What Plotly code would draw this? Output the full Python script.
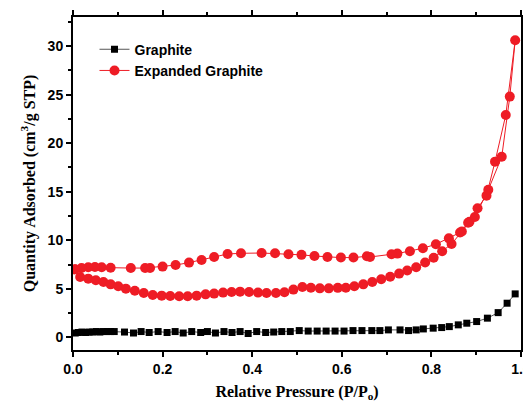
import plotly.graph_objects as go

# Graphite (black squares)
graphite_p = [0.005, 0.012, 0.020, 0.028, 0.036, 0.044, 0.052, 0.060, 0.068, 0.076,
              0.084, 0.092, 0.115, 0.135, 0.152, 0.170, 0.190, 0.210, 0.228, 0.246,
              0.265, 0.285, 0.300, 0.318, 0.337, 0.355, 0.373, 0.391, 0.410, 0.430,
              0.448, 0.466, 0.485, 0.505, 0.525, 0.545, 0.565, 0.585, 0.605, 0.625,
              0.645, 0.667, 0.685, 0.704, 0.730, 0.749, 0.766, 0.782, 0.804, 0.823,
              0.840, 0.860, 0.879, 0.901, 0.925, 0.949, 0.969, 0.987]
graphite_q = [0.45, 0.50, 0.55, 0.50, 0.55, 0.55, 0.60, 0.55, 0.60, 0.60,
              0.60, 0.60, 0.55, 0.45, 0.60, 0.50, 0.60, 0.50, 0.60, 0.45,
              0.60, 0.50, 0.60, 0.45, 0.60, 0.50, 0.60, 0.40, 0.60, 0.50,
              0.55, 0.60, 0.60, 0.70, 0.65, 0.65, 0.65, 0.65, 0.65, 0.70,
              0.70, 0.70, 0.70, 0.77, 0.77, 0.70, 0.77, 0.87, 0.95, 1.01,
              1.11, 1.29, 1.46, 1.63, 1.98, 2.55, 3.52, 4.48]

# Expanded Graphite: adsorption branch (increasing P)
eg_ads_p = [0.004, 0.016, 0.034, 0.051, 0.068, 0.084, 0.101, 0.118, 0.138, 0.158,
            0.178, 0.198, 0.217, 0.237, 0.256, 0.276, 0.296, 0.315, 0.335, 0.354,
            0.373, 0.393, 0.413, 0.432, 0.453, 0.472, 0.492, 0.512, 0.531, 0.551,
            0.571, 0.591, 0.609, 0.628, 0.648, 0.668, 0.688, 0.708, 0.728, 0.746,
            0.766, 0.786, 0.805, 0.824, 0.845, 0.868, 0.885, 0.903, 0.923, 0.942,
            0.966, 0.987]
eg_ads_q = [7.01, 6.22, 6.05, 5.88, 5.70, 5.46, 5.26, 5.02, 4.81, 4.57,
            4.36, 4.30, 4.26, 4.23, 4.23, 4.30, 4.43, 4.51, 4.61, 4.67,
            4.71, 4.67, 4.61, 4.57, 4.57, 4.64, 4.92, 5.19, 5.12, 5.05,
            5.05, 5.10, 5.12, 5.26, 5.46, 5.70, 5.98, 6.25, 6.57, 6.88,
            7.22, 7.71, 8.20, 8.88, 9.62, 10.9, 11.9, 13.3, 14.6, 18.1,
            22.9, 30.6]
# Expanded Graphite: desorption branch (decreasing P)
eg_des_p = [0.975, 0.957, 0.927, 0.897, 0.882, 0.864, 0.839, 0.810, 0.781, 0.752,
            0.724, 0.711, 0.663, 0.656, 0.626, 0.598, 0.568, 0.539, 0.510, 0.481,
            0.451, 0.421, 0.375, 0.345, 0.315, 0.287, 0.259, 0.229, 0.200, 0.172,
            0.161, 0.129, 0.084, 0.064, 0.049, 0.034, 0.019, 0.004]
eg_des_q = [24.8, 18.6, 15.2, 12.4, 11.8, 10.8, 10.2, 9.59, 9.18, 8.87,
            8.63, 8.56, 8.28, 8.35, 8.22, 8.22, 8.28, 8.38, 8.50, 8.56,
            8.66, 8.69, 8.66, 8.59, 8.28, 7.97, 7.70, 7.45, 7.29, 7.14,
            7.14, 7.14, 7.18, 7.22, 7.25, 7.22, 7.14, 7.01]

eg_p = eg_ads_p + eg_des_p
eg_q = eg_ads_q + eg_des_q

RED = "#ee1c25"

fig = go.Figure()
fig.add_trace(go.Scatter(
    x=graphite_p, y=graphite_q, mode="lines+markers", name="Graphite",
    line=dict(color="#555555", width=1),
    marker=dict(symbol="square", size=7, color="black"),
))
fig.add_trace(go.Scatter(
    x=eg_p, y=eg_q, mode="lines+markers", name="Expanded Graphite",
    line=dict(color=RED, width=1),
    marker=dict(symbol="circle", size=10, color=RED),
))

axis_common = dict(
    showline=True, linecolor="black", linewidth=2, mirror="ticks",
    ticks="outside", ticklen=5, tickwidth=2, tickcolor="black",
    showgrid=False, zeroline=False, automargin=False,
    tickfont=dict(family="Liberation Sans", size=14, color="black", weight="bold"),
)

fig.update_layout(
    width=523, height=395,
    margin=dict(l=65, r=10, t=9, b=53),
    paper_bgcolor="white", plot_bgcolor="white",
    showlegend=True,
    legend=dict(x=0.048, y=0.95, xanchor="left", yanchor="top",
                bgcolor="rgba(0,0,0,0)", tracegroupgap=0,
                font=dict(family="Liberation Sans", size=14, color="black", weight="bold")),
    xaxis=dict(
        range=[0, 1.0], tickvals=[0, 0.2, 0.4, 0.6, 0.8, 1.0],
        ticktext=["0.0", "0.2", "0.4", "0.6", "0.8", "1.0"],
        minor=dict(dtick=0.1, ticks="outside", ticklen=3, tickwidth=2, tickcolor="black"),
        title=dict(text="Relative Pressure (P/P<sub>o</sub>)", standoff=10,
                   font=dict(family="Liberation Serif", size=16, color="black", weight="bold")),
        **axis_common,
    ),
    yaxis=dict(
        range=[-1.3, 33], tickvals=[0, 5, 10, 15, 20, 25, 30],
        minor=dict(dtick=2.5, ticks="outside", ticklen=3, tickwidth=2, tickcolor="black"),
        title=dict(text="Quantity Adsorbed (cm<sup>3</sup>/g STP)", standoff=8,
                   font=dict(family="Liberation Serif", size=16, color="black", weight="bold")),
        **axis_common,
    ),
)

fig.write_html("out.html")
